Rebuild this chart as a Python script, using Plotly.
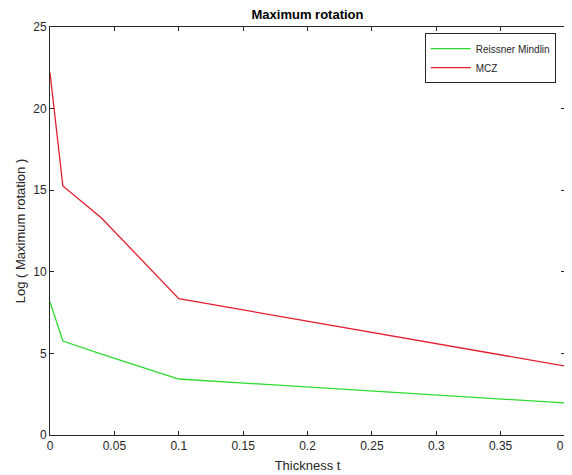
import plotly.graph_objects as go

thickness = [0.0, 0.01, 0.04, 0.1, 0.4]
reissner_mindlin = [8.15, 5.76, 4.95, 3.43, 1.96]
mcz = [22.2, 15.26, 13.3, 8.35, 4.22]
x_ticks = [0, 0.05, 0.1, 0.15, 0.2, 0.25, 0.3, 0.35, 0.4]
x_tick_labels = ["0", "0.05", "0.1", "0.15", "0.2", "0.25", "0.3", "0.35", "0.4"]
y_ticks = [0, 5, 10, 15, 20, 25]

fig = go.Figure()
fig.add_trace(go.Scatter(x=thickness, y=reissner_mindlin, mode="lines",
                         name="Reissner Mindlin", line=dict(color="#2edc2e", width=1.3)))
fig.add_trace(go.Scatter(x=thickness, y=mcz, mode="lines",
                         name="MCZ", line=dict(color="#e41e2c", width=1.3)))

axis_common = dict(showgrid=False, zeroline=False, showline=True, linecolor="#262626",
                   linewidth=1, mirror="ticks", ticks="inside", ticklen=4,
                   tickcolor="#262626", tickfont=dict(size=12, color="#262626"),
                   automargin=False)
fig.update_xaxes(range=[0, 0.40001], tickvals=x_ticks, ticktext=x_tick_labels,
                 title=dict(text="Thickness t", font=dict(size=13, color="#262626"), standoff=8),
                 **axis_common)
fig.update_yaxes(range=[0, 25.0001], tickvals=y_ticks,
                 title=dict(text="Log ( Maximum rotation )", font=dict(size=13, color="#262626"), standoff=4),
                 **axis_common)

fig.update_layout(
    width=572, height=475,
    margin=dict(l=42, r=15, t=19, b=48),
    paper_bgcolor="white", plot_bgcolor="white",
    font=dict(family="Liberation Sans, Arial, sans-serif", color="#262626"),
    title=dict(text="<b>Maximum rotation</b>", xref="paper", x=0.5, xanchor="center",
               yref="container", y=0.986, yanchor="middle", font=dict(size=13, color="black")),
    legend=dict(x=0.982, y=0.985, xanchor="right", yanchor="top",
                bordercolor="#262626", borderwidth=1, bgcolor="white",
                font=dict(size=10, color="#262626"), tracegroupgap=0,
                itemwidth=40),
    showlegend=True,
)

fig.write_html("out.html")
